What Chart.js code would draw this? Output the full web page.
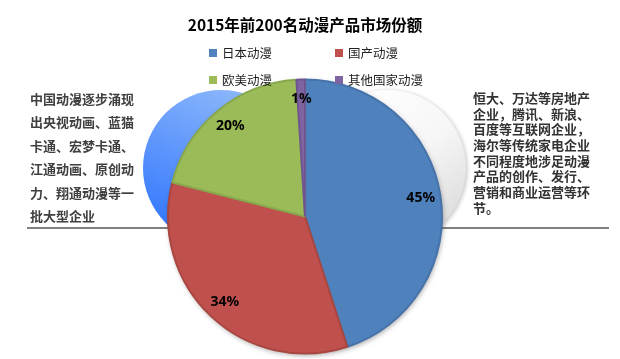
<!DOCTYPE html>
<html lang="zh-CN">
<head>
  <meta charset="UTF-8" />
  <title>2015年前200名动漫产品市场份额</title>
  <script src="https://cdn.jsdelivr.net/npm/chart.js"></script>
  <style>
    html, body { margin: 0; padding: 0; background: #fff; }
    #wrap { position: relative; width: 620px; height: 359px; }
  </style>
</head>
<body>
  <div id="wrap"><canvas id="shareChart"></canvas></div>

  <script>
    const chartTitle = "2015年前200名动漫产品市场份额";
    const categories = ["日本动漫", "国产动漫", "欧美动漫", "其他国家动漫"];
    const shares = [45, 34, 20, 1];
    const sliceColors = ["#4f81bd", "#c0504d", "#9bbb59", "#8064a2"];
    const sliceBorders = ["#4673aa", "#a9463f", "#89a84d", "#6f5690"];
    const leftNote = ["中国动漫逐步涌现", "出央视动画、蓝猫", "卡通、宏梦卡通、", "江通动画、原创动", "力、翔通动漫等一", "批大型企业"];
    const rightNote = ["恒大、万达等房地产", "企业，腾讯、新浪、", "百度等互联网企业，", "海尔等传统家电企业", "不同程度地涉足动漫", "产品的创作、发行、", "营销和商业运营等环", "节。"];

    const cjk = "'Noto Sans CJK SC', 'Noto Sans', sans-serif";

    // background: two spheres + divider line, then title/legend/notes
    const decorPlugin = {
      id: "decor",
      beforeDatasetsDraw(chart) {
        const ctx = chart.ctx;
        const arc = chart.getDatasetMeta(0).data[0];
        ctx.save();

        // blue sphere (left)
        let g = ctx.createLinearGradient(250, 92, 180, 246);
        g.addColorStop(0, "#8db8fb");
        g.addColorStop(1, "#2f74fd");
        ctx.fillStyle = g;
        ctx.beginPath();
        ctx.arc(221, 168, 78, 0, Math.PI * 2);
        ctx.fill();

        // white sphere (right)
        ctx.shadowColor = "rgba(0,0,0,0.25)";
        ctx.shadowBlur = 4;
        ctx.shadowOffsetX = 1;
        ctx.shadowOffsetY = 1;
        g = ctx.createLinearGradient(340, 100, 450, 240);
        g.addColorStop(0, "#ffffff");
        g.addColorStop(0.5, "#f6f6f6");
        g.addColorStop(1, "#d8d8d8");
        ctx.fillStyle = g;
        ctx.beginPath();
        ctx.arc(388, 168, 78, 0, Math.PI * 2);
        ctx.fill();
        ctx.shadowColor = "transparent";

        // divider
        ctx.strokeStyle = "#808080";
        ctx.lineWidth = 2;
        ctx.beginPath();
        ctx.moveTo(27, 228);
        ctx.lineTo(609, 228);
        ctx.stroke();

        // soft shadow under the pie
        if (arc) {
          ctx.shadowColor = "rgba(0,0,0,0.35)";
          ctx.shadowBlur = 5;
          ctx.shadowOffsetY = 2;
          ctx.fillStyle = "#888";
          ctx.beginPath();
          ctx.arc(arc.x, arc.y, arc.outerRadius, 0, Math.PI * 2);
          ctx.fill();
        }
        ctx.restore();
      },
      afterDatasetsDraw(chart) {
        const ctx = chart.ctx;
        const meta = chart.getDatasetMeta(0);
        ctx.save();

        // percentage labels
        ctx.fillStyle = "#000";
        ctx.font = "bold 14px 'Noto Sans', sans-serif";
        ctx.textAlign = "center";
        ctx.textBaseline = "middle";
        meta.data.forEach((el, i) => {
          const { x, y, startAngle, endAngle, outerRadius } = el.getProps(["x", "y", "startAngle", "endAngle", "outerRadius"], true);
          const mid = (startAngle + endAngle) / 2;
          const r = outerRadius * 0.855;
          ctx.fillText(shares[i] + "%", x + Math.cos(mid) * r, y + Math.sin(mid) * r);
        });

        // title
        ctx.font = "bold 15.5px " + cjk;
        ctx.fillStyle = "#000";
        ctx.fillText(chartTitle, 305, 25);

        // legend 2x2
        ctx.textAlign = "left";
        ctx.font = "12.5px " + cjk;
        const colX = [209, 335];
        const rowY = [53, 80];
        categories.forEach((name, i) => {
          const bx = colX[i % 2], by = rowY[Math.floor(i / 2)];
          ctx.fillStyle = sliceColors[i];
          ctx.fillRect(bx, by - 4, 8, 8);
          ctx.fillStyle = "#222";
          ctx.fillText(name, bx + 13, by);
        });

        // side notes
        ctx.font = "bold 13px " + cjk;
        ctx.fillStyle = "#404040";
        leftNote.forEach((t, i) => ctx.fillText(t, 30, 99 + i * 23.4));
        ctx.fillStyle = "#333";
        rightNote.forEach((t, i) => ctx.fillText(t, 473, 98 + i * 15.7));

        ctx.restore();
      }
    };

    new Chart(document.getElementById("shareChart"), {
      type: "pie",
      data: {
        labels: categories,
        datasets: [{
          data: shares,
          backgroundColor: sliceColors,
          borderColor: sliceBorders,
          borderWidth: 2,
          radius: 137
        }]
      },
      options: {
        responsive: true,
        maintainAspectRatio: false,
        animation: false,
        layout: { padding: { left: 0, right: 10, top: 74, bottom: 0 } },
        plugins: {
          legend: { display: false },
          title: { display: false },
          tooltip: { enabled: false }
        }
      },
      plugins: [decorPlugin]
    });
  </script>
</body>
</html>
